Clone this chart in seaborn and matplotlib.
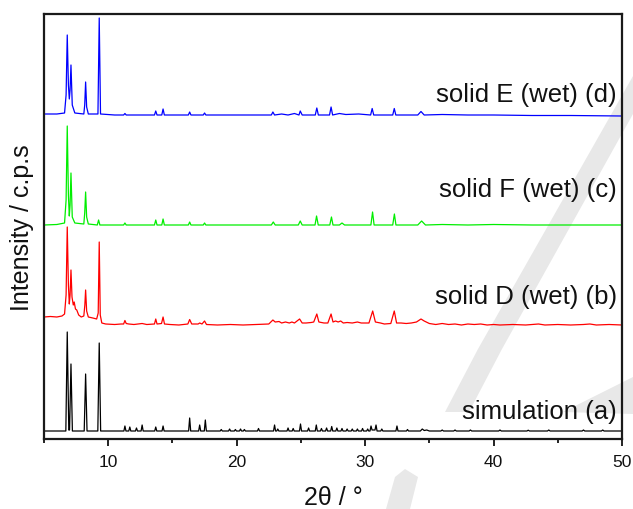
import matplotlib
matplotlib.use("Agg")
import matplotlib.pyplot as plt
from matplotlib.patches import Polygon
from matplotlib.ticker import MultipleLocator
import seaborn as sns
import pandas as pd

# ---------------- data ----------------
sim_x = [5.0, 6.70, 6.81, 6.93, 6.99, 7.10, 7.21, 8.13, 8.24, 8.35, 9.19, 9.30, 9.41,
         11.22, 11.30, 11.38, 11.60, 11.68, 11.76, 12.12, 12.20, 12.28, 12.56, 12.64, 12.72,
         13.62, 13.70, 13.78, 14.19, 14.27, 14.35, 16.26, 16.34, 16.42, 17.04, 17.12, 17.20,
         17.48, 17.56, 17.64, 18.72, 18.80, 18.88, 19.37, 19.45, 19.53, 19.82, 19.90, 19.98,
         20.22, 20.30, 20.38, 20.52, 20.60, 20.68, 21.62, 21.70, 21.78, 22.87, 22.95, 23.03,
         23.12, 23.20, 23.28, 23.92, 24.00, 24.08, 24.32, 24.40, 24.48, 24.89, 24.97, 25.05,
         25.52, 25.60, 25.68, 26.12, 26.20, 26.28, 26.52, 26.60, 26.68, 26.92, 27.00, 27.08,
         27.32, 27.40, 27.48, 27.72, 27.80, 27.88, 28.12, 28.20, 28.28, 28.52, 28.60, 28.68,
         28.92, 29.00, 29.08, 29.32, 29.40, 29.48, 29.72, 29.80, 29.88, 30.12, 30.20, 30.28,
         30.38, 30.46, 30.54, 30.77, 30.85, 30.93, 31.22, 31.30, 31.38, 32.40, 32.48, 32.56,
         33.22, 33.30, 33.38, 34.30, 34.45, 34.60, 34.80, 35.00, 35.90, 36.00, 36.10,
         36.90, 37.00, 37.10, 38.10, 38.20, 38.30, 40.40, 40.50, 40.60, 42.60, 42.70, 42.80,
         44.20, 44.30, 44.40, 46.90, 47.00, 47.10, 48.40, 48.50, 48.60, 50.0]
sim_y = [0, 0, 99, 1, 1, 67, 0, 0, 57, 0, 0, 88, 0,
         0, 5, 0, 0, 4, 0, 0, 3, 0, 0, 6, 0,
         0, 4, 0, 0, 5, 0, 0, 13, 0, 0, 6, 0,
         0, 11, 0, 0, 1.5, 0, 0, 2, 0, 0, 1.5, 0,
         0, 2, 0, 0, 1.5, 0, 0, 2.5, 0, 0, 6, 0,
         0, 2, 0, 0, 3, 0, 0, 2.5, 0, 0, 7, 0,
         0, 3, 0, 0, 6, 0, 0, 2.5, 0, 0, 3, 0,
         0, 4.5, 0, 0, 3, 0, 0, 2.5, 0, 0, 2, 0,
         0, 2, 0, 0, 2, 0, 0, 2.5, 0, 0, 2, 0,
         0, 5, 1, 1, 6, 0, 0, 2, 0, 0, 5, 0,
         0, 1.5, 0, 0, 2, 0.5, 1, 0, 0, 1, 0,
         0, 1, 0, 0, 1, 0, 0, 1, 0, 0, 0.8, 0,
         0, 1, 0, 0, 1, 0, 0, 1, 0, 0]

d_x = [5.0, 5.5, 6.0, 6.4, 6.6, 6.72, 6.81, 6.90, 6.97, 7.03, 7.10, 7.18, 7.28, 7.35, 7.45,
       7.55, 7.70, 7.90, 8.10, 8.18, 8.24, 8.32, 8.45, 8.80, 9.10, 9.22, 9.30, 9.38, 9.50,
       9.80, 10.5, 11.0, 11.2, 11.3, 11.4, 11.6, 12.0, 12.64, 13.0, 13.6, 13.7, 13.8, 14.15,
       14.27, 14.38, 14.8, 15.5, 16.2, 16.34, 16.5, 17.0, 17.12, 17.3, 17.5, 17.65, 18.5,
       19.5, 20.5, 21.5, 22.5, 22.82, 23.0, 23.3, 23.5, 23.8, 24.1, 24.3, 24.5, 24.9, 25.1,
       25.4, 25.8, 26.0, 26.24, 26.4, 26.8, 27.1, 27.35, 27.5, 27.7, 27.9, 28.1, 28.3, 28.6,
       29.0, 29.4, 29.7, 30.0, 30.3, 30.59, 30.8, 31.2, 31.5, 32.0, 32.27, 32.45, 32.8, 33.2,
       33.6, 34.0, 34.35, 34.6, 35.0, 35.5, 36.0, 36.5, 37.0, 37.5, 38.0, 38.5, 39.0, 39.5,
       40.0, 40.5, 41.5, 42.5, 43.5, 44.0, 45.0, 46.0, 47.0, 47.5, 48.0, 49.0, 50.0]
d_y = [8, 8.5, 8, 9, 11, 30, 98, 40, 21, 30, 55, 28, 20, 23, 16,
       15, 10, 8, 9, 20, 35, 14, 8, 7, 6, 12, 83, 10, 2,
       1, 0.5, 1, 1, 4.5, 1.5, 1, 0.5, 1.5, 0.5, 1, 6, 1, 1.5,
       8, 1, 0.5, 0, 1, 5.5, 1, 1, 2, 1, 4, 0.5, 0,
       0.5, 0, 0.5, 1, 5, 3, 3.5, 2, 3, 2, 3, 2, 6, 2,
       2, 2.5, 3, 11, 3, 2, 2, 11, 3, 4, 3, 4, 2, 2.5,
       2, 3, 2, 2, 2, 14, 3, 2, 1, 1.5, 14, 2, 2, 1.5,
       2, 3, 6, 4, 1.5, 0.5, 1.5, 0.5, 1, 0, 1, 0.5, 1, 0,
       0.5, 0, 0.5, 0, 1, 0, 0.5, 0, 0.5, 1, 0, 0.5, 0]

f_x = [5.0, 6.0, 6.6, 6.72, 6.81, 6.90, 6.97, 7.03, 7.10, 7.20, 7.40, 8.10, 8.17, 8.24,
       8.32, 8.45, 9.15, 9.25, 9.35, 10.5, 11.2, 11.3, 11.4, 13.6, 13.7, 13.8, 14.17, 14.27,
       14.37, 16.24, 16.34, 16.44, 17.4, 17.5, 17.6, 19.5, 21.5, 22.7, 22.85, 23.0, 24.8,
       24.95, 25.1, 26.1, 26.22, 26.35, 27.25, 27.38, 27.5, 28.0, 28.2, 28.4, 30.45, 30.58,
       30.7, 32.15, 32.28, 32.4, 34.1, 34.4, 34.7, 36.0, 38.0, 40.0, 43.0, 46.0, 50.0]
f_y = [0, 0.5, 2, 25, 99, 30, 9, 20, 52, 8, 2, 1, 12, 33,
       8, 1, 0, 5, 0, 0, 0, 2, 0, 0, 5, 0, 0, 6,
       0, 0, 3, 0, 0, 2, 0, 0, 0, 0, 3, 0, 0,
       4, 0, 0, 9, 0, 0, 8, 0, 0, 2, 0, 0, 13,
       0, 0, 11, 0, 0, 4, 0, 0.5, 0, 0.5, 0, 0, 0]

e_x = [5.0, 6.0, 6.6, 6.72, 6.81, 6.90, 6.97, 7.03, 7.10, 7.20, 7.40, 8.10, 8.17, 8.24,
       8.32, 8.45, 9.20, 9.30, 9.40, 10.5, 11.2, 11.3, 11.4, 13.6, 13.7, 13.8, 14.17, 14.27,
       14.37, 16.24, 16.34, 16.44, 17.4, 17.5, 17.6, 19.5, 21.5, 22.7, 22.82, 22.95, 23.5,
       24.0, 24.5, 24.85, 24.95, 25.1, 26.12, 26.24, 26.36, 27.23, 27.35, 27.47, 28.0,
       28.5, 29.5, 30.43, 30.55, 30.67, 32.15, 32.27, 32.39, 34.1, 34.35, 34.6, 36.0,
       38.0, 40.0, 43.0, 46.0, 50.0]
e_y = [1, 1, 2, 20, 80, 30, 16, 25, 50, 10, 2, 1, 10, 33,
       8, 1, 1, 97, 1, 0, 0, 1.5, 0, 0, 4, 0, 0, 6,
       0, 0, 3, 0, 0, 2, 0, 0, 0, 0, 3, 0, 1,
       0, 1.5, 0, 4, 0, 0, 7, 0, 0, 8, 0, 1.5,
       0.5, 1, 0, 6.5, 0, 0, 6.5, 0, 0, 3.5, 0, 0.5,
       0, 0, -0.5, -0.5, -1]

series_labels = ["simulation (a)", "solid D (wet) (b)", "solid F (wet) (c)", "solid E (wet) (d)"]
x_ticks = [10, 20, 30, 40, 50]

# ---------------- layout / style ----------------
offsets = [8, 114, 214, 324]
colors = ["#000000", "#ff0000", "#00ee00", "#0000ff"]
label_y = [0.066, 0.336, 0.588, 0.812]

sns.set_style("ticks")
plt.rcParams["font.family"] = ["Liberation Sans", "DejaVu Sans"]

fig = plt.figure(figsize=(6.33, 5.10), dpi=100)

# faint background watermark shapes (drawn beneath everything)
def fpt(px, py):
    return (px / 633.0, 1 - py / 510.0)

bg = fig.add_axes([0, 0, 1, 1], zorder=-5)
bg.set_axis_off()
bg.set_xlim(0, 1)
bg.set_ylim(0, 1)
wm_kw = dict(closed=True, facecolor="#e8e8e8", edgecolor="none")
bg.add_patch(Polygon([fpt(478, 350), fpt(502, 350), fpt(633, 115), fpt(633, 77)], **wm_kw))
bg.add_patch(Polygon([fpt(445, 413), fpt(469, 413), fpt(502, 350), fpt(478, 350)], **wm_kw))
bg.add_patch(Polygon([fpt(386, 510), fpt(410, 510), fpt(418, 478), fpt(405, 470), fpt(395, 478)], **wm_kw))
bg.add_patch(Polygon([fpt(563, 413), fpt(633, 378), fpt(633, 415)], **wm_kw))

ax = fig.add_axes([44 / 633, 70 / 510, 578 / 633, 425 / 510], zorder=1)
ax.patch.set_alpha(0)

data = [(sim_x, sim_y), (d_x, d_y), (f_x, f_y), (e_x, e_y)]
for (xs, ys), off, col in zip(data, offsets, colors):
    df = pd.DataFrame({"two_theta": xs, "intensity": [v + off for v in ys]})
    sns.lineplot(data=df, x="two_theta", y="intensity", ax=ax, color=col,
                 linewidth=0.9, estimator=None, sort=False)

for lab, ly in zip(series_labels, label_y):
    ax.text(0.991, ly, lab, transform=ax.transAxes, ha="right", va="center",
            fontsize=18.5, color="#111111")

ax.set_xlim(5, 50)
ax.set_ylim(0, 425)
ax.set_xticks(x_ticks)
ax.xaxis.set_minor_locator(MultipleLocator(5))
ax.set_yticks([])
ax.tick_params(axis="x", which="major", direction="out", length=5, width=1.3,
               labelsize=12.5, pad=6, color="#111111", labelcolor="#111111")
ax.tick_params(axis="x", which="minor", direction="out", length=3, width=1.3,
               color="#111111")
ax.set_xlabel("2θ / °", fontsize=18, labelpad=11, color="#111111")
ax.set_ylabel("Intensity / c.p.s", fontsize=18, labelpad=7, color="#111111")
for sp in ax.spines.values():
    sp.set_linewidth(1.6)
    sp.set_color("#1a1a1a")
    sp.set_visible(True)

fig.savefig("out.png", dpi=100)
